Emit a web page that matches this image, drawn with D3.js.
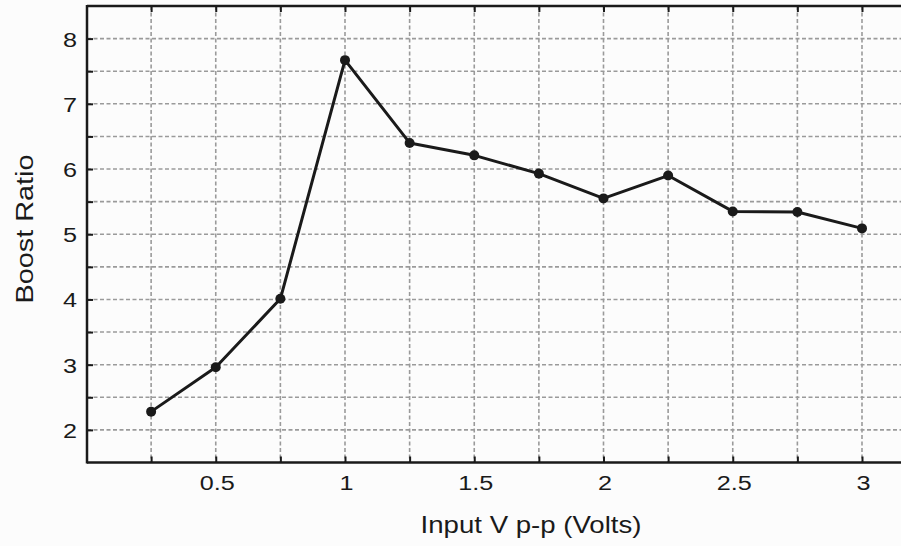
<!DOCTYPE html>
<html>
<head>
<meta charset="utf-8">
<script src="https://cdn.jsdelivr.net/npm/d3@7"></script>
<style>
  html, body { margin: 0; padding: 0; background: #fcfcfc; }
  svg { display: block; }
  text { font-family: "Liberation Sans", Arial, sans-serif; fill: #1a1a1a; }
</style>
</head>
<body>
<svg id="chart" width="901" height="546"></svg>
<script>
// Input peak-to-peak voltage (V) and measured boost ratio
const inputVpp = [0.25, 0.5, 0.75, 1, 1.25, 1.5, 1.75, 2, 2.25, 2.5, 2.75, 3];
const boostRatio = [2.28, 2.96, 4.01, 7.67, 6.40, 6.21, 5.93, 5.55, 5.90, 5.35, 5.34, 5.09];

const xTickLabels = [0.5, 1, 1.5, 2, 2.5, 3];
const yTickLabels = [2, 3, 4, 5, 6, 7, 8];
const xGrid = [0.25, 0.5, 0.75, 1, 1.25, 1.5, 1.75, 2, 2.25, 2.5, 2.75, 3];
const yGrid = [2, 2.5, 3, 3.5, 4, 4.5, 5, 5.5, 6, 6.5, 7, 7.5, 8];

const xLabel = "Input V p-p (Volts)";
const yLabel = "Boost Ratio";

const svg = d3.select("#chart");
const W = 901, H = 546;
const plotLeft = 87, plotTop = 6, plotBottom = 462.5;
const stretch = 1.2; // horizontal widening of the lettering

const x = d3.scaleLinear().domain([0, 3.2]).range([86.5, 913.7]);
const y = d3.scaleLinear().domain([1.5, 8.5]).range([plotBottom, plotTop]);

const ink = "#1a1a1a";

// dashed grid
const grid = svg.append("g")
  .attr("stroke", "#9a9a9a")
  .attr("stroke-width", 1.6)
  .attr("stroke-dasharray", "4,2.5");
grid.selectAll("line.v").data(xGrid).join("line")
  .attr("class", "v")
  .attr("x1", d => x(d)).attr("x2", d => x(d))
  .attr("y1", plotTop).attr("y2", plotBottom);
grid.selectAll("line.h").data(yGrid).join("line")
  .attr("class", "h")
  .attr("x1", plotLeft).attr("x2", W)
  .attr("y1", d => y(d)).attr("y2", d => y(d));

// axes with inward ticks
const xAxisBottom = d3.axisBottom(x).tickValues(xGrid).tickSizeInner(-6).tickSizeOuter(0)
  .tickFormat(d => xTickLabels.includes(d) ? d3.format("")(d) : "");
const gx = svg.append("g").attr("transform", `translate(0,${plotBottom})`).call(xAxisBottom);

const xAxisTop = d3.axisTop(x).tickValues(xGrid).tickSizeInner(-6).tickSizeOuter(0).tickFormat("");
const gt = svg.append("g").attr("transform", `translate(0,${plotTop})`).call(xAxisTop);

const yAxis = d3.axisLeft(y).tickValues(yGrid).tickSizeInner(-6).tickSizeOuter(0)
  .tickFormat(d => yTickLabels.includes(d) ? d3.format("")(d) : "");
const gy = svg.append("g").attr("transform", `translate(${plotLeft},0)`).call(yAxis);

[gx, gt, gy].forEach(g => {
  g.select(".domain").remove();
  g.selectAll(".tick line").attr("stroke", ink).attr("stroke-width", 2);
  g.selectAll(".tick text").attr("font-size", 21).attr("fill", ink)
    .style("font-family", "'Liberation Sans', Arial, sans-serif");
});

gx.selectAll(".tick text")
  .attr("x", 0).attr("y", 0).attr("dy", null)
  .attr("transform", `translate(1,27.5) scale(${stretch},1)`);
gy.selectAll(".tick text")
  .attr("x", 0).attr("y", 0).attr("dy", null)
  .attr("transform", `translate(-10,7.5) scale(${stretch},1)`);

// frame lines (left, bottom, top)
svg.append("line").attr("x1", plotLeft).attr("x2", plotLeft).attr("y1", plotTop - 1).attr("y2", plotBottom + 1)
  .attr("stroke", ink).attr("stroke-width", 2.5);
svg.append("line").attr("x1", plotLeft).attr("x2", W).attr("y1", plotBottom).attr("y2", plotBottom)
  .attr("stroke", ink).attr("stroke-width", 2.5);
svg.append("line").attr("x1", plotLeft).attr("x2", W).attr("y1", plotTop).attr("y2", plotTop)
  .attr("stroke", ink).attr("stroke-width", 2.5);

// data line and markers
const pts = inputVpp.map((v, i) => [v, boostRatio[i]]);
svg.append("path")
  .datum(pts)
  .attr("fill", "none")
  .attr("stroke", ink)
  .attr("stroke-width", 3)
  .attr("stroke-linejoin", "round")
  .attr("d", d3.line().x(d => x(d[0])).y(d => y(d[1])));
svg.append("g").selectAll("circle").data(pts).join("circle")
  .attr("cx", d => x(d[0])).attr("cy", d => y(d[1]))
  .attr("r", 5).attr("fill", ink);

// axis titles
svg.append("text")
  .attr("transform", `translate(531,533) scale(${stretch},1)`)
  .attr("text-anchor", "middle")
  .attr("font-size", 23)
  .text(xLabel);
svg.append("text")
  .attr("transform", `translate(33,229) rotate(-90) scale(${stretch},1)`)
  .attr("text-anchor", "middle")
  .attr("font-size", 24)
  .text(yLabel);
</script>
</body>
</html>
